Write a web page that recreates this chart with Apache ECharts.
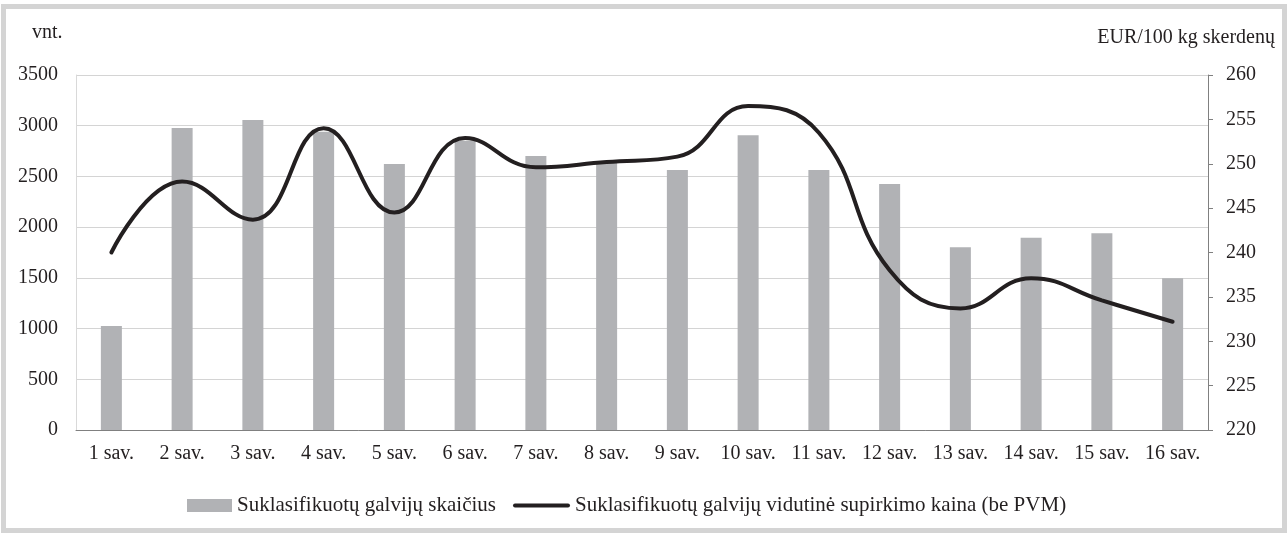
<!DOCTYPE html>
<html>
<head>
<meta charset="utf-8">
<script src="https://cdn.jsdelivr.net/npm/echarts@6/dist/echarts.min.js"></script>
<style>
  html, body { margin: 0; padding: 0; background: #fff; }
  #chart { width: 1287px; height: 533px; }
</style>
</head>
<body>
<div id="chart"></div>
<script>
// savaitės
const weeks = ['1 sav.', '2 sav.', '3 sav.', '4 sav.', '5 sav.', '6 sav.', '7 sav.', '8 sav.',
  '9 sav.', '10 sav.', '11 sav.', '12 sav.', '13 sav.', '14 sav.', '15 sav.', '16 sav.']
// suklasifikuotų galvijų skaičius, vnt.
const headCount = [1025, 2977, 3056, 2940, 2623, 2852, 2701, 2640,
  2563, 2905, 2563, 2425, 1801, 1896, 1939, 1495]
// vidutinė supirkimo kaina, EUR/100 kg
const avgPrice = [240.0, 248.0, 243.7, 254.0, 244.5, 252.9, 249.6, 250.2,
  250.8, 256.5, 253.5, 238.0, 233.7, 237.1, 234.6, 232.2]

const barName = 'Suklasifikuotų galvijų skaičius'
const lineName = 'Suklasifikuotų galvijų vidutinė supirkimo kaina (be PVM)'

const font = 'Liberation Serif'
const textColor = '#231f20'

const myChart = echarts.init(document.getElementById('chart'))
const option = {
  animation: false,
  textStyle: { fontFamily: font, color: textColor },
  grid: { left: 76, right: 79, top: 75, bottom: 103 },
  graphic: [
    { // rėmelis
      type: 'rect',
      z: -1,
      shape: { x: 3.5, y: 6.5, width: 1281, height: 524 },
      style: { fill: 'none', stroke: '#d4d4d4', lineWidth: 5 }
    },
    {
      type: 'text',
      style: { text: 'vnt.', x: 32, y: 33, textAlign: 'left', textVerticalAlign: 'middle',
        fontFamily: font, fontSize: 20, fill: textColor }
    },
    {
      type: 'text',
      style: { text: 'EUR/100 kg skerdenų', x: 1275, y: 38, textAlign: 'right', textVerticalAlign: 'middle',
        fontFamily: font, fontSize: 20, fill: textColor }
    }
  ],
  legend: [
    {
      data: [barName],
      left: 187,
      top: 495,
      padding: 0,
      icon: 'rect',
      itemWidth: 45,
      itemHeight: 13,
      textStyle: { fontFamily: font, fontSize: 21, color: textColor }
    },
    {
      data: [lineName],
      left: 513,
      top: 495,
      padding: 0,
      icon: 'path://M2,0 H55 A2,2 0 0 1 55,4 H2 A2,2 0 0 1 2,0 Z',
      itemWidth: 57,
      itemHeight: 5,
      textStyle: { fontFamily: font, fontSize: 21, color: textColor }
    }
  ],
  xAxis: {
    type: 'category',
    data: weeks,
    axisLine: { lineStyle: { color: '#808080', width: 1 } },
    axisTick: { show: false },
    axisLabel: { fontSize: 20, color: textColor, margin: 14, interval: 0 }
  },
  yAxis: [
    {
      type: 'value',
      min: 0,
      max: 3500,
      interval: 500,
      axisLine: { show: true, lineStyle: { color: '#d9d9d9' } },
      axisTick: { show: false },
      axisLabel: { fontSize: 20, color: textColor, margin: 18, formatter: v => String(v) },
      splitLine: { lineStyle: { color: '#d4d4d4', width: 1 } }
    },
    {
      type: 'value',
      min: 220,
      max: 260,
      interval: 5,
      position: 'right',
      axisLine: { show: true, lineStyle: { color: '#808080' } },
      axisTick: { show: true, length: 5, lineStyle: { color: '#808080' } },
      axisLabel: { fontSize: 20, color: textColor, margin: 18, formatter: v => String(v) },
      splitLine: { show: false }
    }
  ],
  series: [
    {
      name: barName,
      type: 'bar',
      data: headCount,
      barWidth: 21,
      itemStyle: { color: '#b1b2b5' }
    },
    {
      name: lineName,
      type: 'line',
      yAxisIndex: 1,
      data: avgPrice,
      smooth: 0.45,
      smoothConstraint: false,
      symbol: 'none',
      lineStyle: { color: '#231f20', width: 4, cap: 'round' },
      itemStyle: { color: '#231f20' }
    }
  ]
}
myChart.setOption(option)
</script>
</body>
</html>
